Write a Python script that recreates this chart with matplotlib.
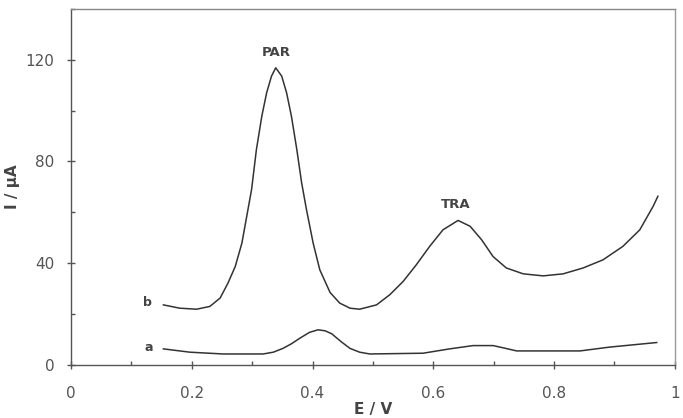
import matplotlib
matplotlib.use("Agg")
import matplotlib.pyplot as plt
from matplotlib.ticker import MultipleLocator

# curve a (blank)
e_a = [0.153, 0.197, 0.252, 0.318, 0.335, 0.351, 0.365, 0.379, 0.395, 0.409, 0.421,
       0.432, 0.447, 0.462, 0.478, 0.495, 0.583, 0.627, 0.648, 0.666, 0.699, 0.718,
       0.738, 0.843, 0.892, 0.931, 0.970]
i_a = [6.3, 5.0, 4.3, 4.3, 5.0, 6.5, 8.3, 10.5, 12.8, 13.8, 13.4,
       12.2, 9.2, 6.5, 5.0, 4.3, 4.6, 6.3, 7.0, 7.6, 7.6, 6.6,
       5.5, 5.5, 7.0, 7.9, 8.8]

# curve b (PAR + TRA)
e_b = [0.153, 0.180, 0.208, 0.230, 0.247, 0.260, 0.272, 0.283, 0.291, 0.299, 0.307,
       0.316, 0.324, 0.332, 0.339, 0.349, 0.357, 0.365, 0.374, 0.382, 0.390, 0.401,
       0.412, 0.429, 0.445, 0.462, 0.478, 0.506, 0.528, 0.550, 0.572, 0.594, 0.616,
       0.641, 0.661, 0.680, 0.699, 0.721, 0.749, 0.782, 0.815, 0.848, 0.881, 0.914,
       0.942, 0.964, 0.972]
i_b = [23.6, 22.3, 21.9, 23.0, 26.3, 32.2, 38.7, 47.9, 58.4, 68.9, 84.6,
       97.8, 107.0, 113.5, 116.8, 113.5, 107.0, 97.8, 84.6, 71.5, 61.0, 47.9,
       37.4, 28.5, 24.3, 22.3, 21.9, 23.6, 27.6, 32.8, 39.4, 46.6, 53.1,
       56.8, 54.5, 49.2, 42.6, 38.1, 35.8, 35.0, 35.8, 38.1, 41.3, 46.6,
       53.1, 62.3, 66.3]

curve_labels = ["a", "b"]
label_pos = [(0.128, 7.0), (0.126, 24.4)]
peak_names = ["PAR", "TRA"]
peak_pos = [(0.34, 123.0), (0.637, 63.0)]

line_col = "#333333"
axis_col = "#555555"
text_col = "#555555"

fig = plt.figure(figsize=(6.83, 4.18), dpi=100)
ax = fig.add_axes([0.104, 0.127, 0.884, 0.852])

ax.plot(e_a, i_a, color=line_col, lw=1.1)
ax.plot(e_b, i_b, color=line_col, lw=1.1)

for name, (x, y) in zip(curve_labels, label_pos):
    ax.text(x, y, name, ha="center", va="center", fontsize=9, fontweight="bold", color="#444444")
for name, (x, y) in zip(peak_names, peak_pos):
    ax.text(x, y, name, ha="center", va="center", fontsize=9.5, fontweight="bold", color="#444444")

ax.set_xlim(0, 1)
ax.set_ylim(0, 140)
ax.set_xticks([0, 0.2, 0.4, 0.6, 0.8, 1.0])
ax.set_xticklabels(["0", "0.2", "0.4", "0.6", "0.8", "1"])
ax.xaxis.set_minor_locator(MultipleLocator(0.1))
ax.yaxis.set_major_locator(MultipleLocator(40))
ax.yaxis.set_minor_locator(MultipleLocator(20))

ax.tick_params(which="major", direction="inout", length=6, width=1, color=axis_col,
               labelcolor=text_col, labelsize=11)
ax.tick_params(which="minor", direction="in", length=3, width=1, color=axis_col)
ax.tick_params(axis="x", which="major", pad=12)
ax.tick_params(axis="y", which="major", pad=9)

for s in ax.spines.values():
    s.set_color(axis_col)
    s.set_linewidth(1.0)
ax.spines["top"].set_color("#888888")
ax.spines["right"].set_color("#999999")

ax.set_xlabel("E / V", fontsize=11, fontweight="bold", color="#444444")
ax.set_ylabel("I / µA", fontsize=11, fontweight="bold", color="#444444")
ax.xaxis.set_label_coords(0.5, -0.105)
ax.yaxis.set_label_coords(-0.084, 0.5)

fig.savefig("out.png", dpi=100)
